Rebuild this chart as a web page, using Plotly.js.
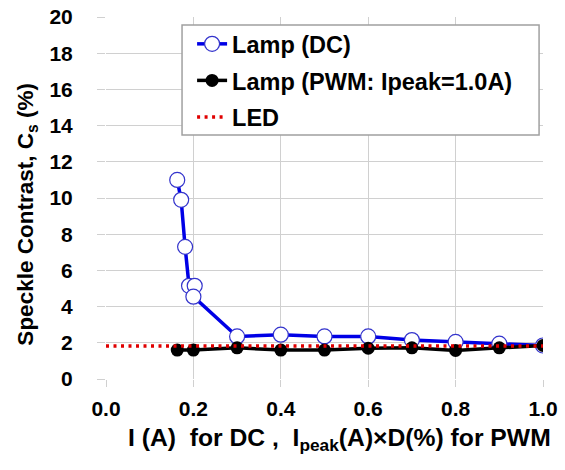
<!DOCTYPE html>
<html>
<head>
<meta charset="utf-8">
<script src="https://cdn.plot.ly/plotly-3.0.1.min.js"></script>
<style>html,body{margin:0;padding:0;background:#fff;}#chart{width:565px;height:470px;}</style>
</head>
<body>
<div id="chart"></div>
<script>
// Data
const dcCurrent = [0.163, 0.172, 0.181, 0.19, 0.203, 0.2, 0.3, 0.4, 0.5, 0.6, 0.7, 0.8, 0.9, 1.0];
const dcContrast = [11.0, 9.9, 7.3, 5.15, 5.15, 4.55, 2.35, 2.45, 2.35, 2.35, 2.15, 2.05, 1.95, 1.85];
const pwmCurrent = [0.163, 0.2, 0.3, 0.4, 0.5, 0.6, 0.7, 0.8, 0.9, 1.0];
const pwmContrast = [1.6, 1.6, 1.72, 1.6, 1.6, 1.7, 1.72, 1.58, 1.72, 1.85];
const ledX = [0.0, 1.0];
const ledContrast = [1.82, 1.82];
const seriesNames = ["Lamp (DC)", "Lamp (PWM: Ipeak=1.0A)", "LED"];
const xTicks = [0.0, 0.2, 0.4, 0.6, 0.8, 1.0];
const xTickText = ["0.0", "0.2", "0.4", "0.6", "0.8", "1.0"];
const yTicks = [0, 2, 4, 6, 8, 10, 12, 14, 16, 18, 20];
const xTitle = "I (A)  for DC ,  I<sub>peak</sub>(A)×D(%) for PWM";
const yTitle = "Speckle Contrast, C<sub>s</sub> (%)";

const font = "Liberation Sans, Arial, sans-serif";

const traces = [
  {
    x: dcCurrent, y: dcContrast, name: seriesNames[0], type: "scatter", mode: "lines+markers",
    line: {color: "#0000e6", width: 3.5},
    marker: {symbol: "circle", size: 15, color: "#ffffff", line: {color: "#3333cc", width: 1.2}},
    legendgroup: "a"
  },
  {
    x: pwmCurrent, y: pwmContrast, name: seriesNames[1], type: "scatter", mode: "lines+markers",
    line: {color: "#000000", width: 3.5},
    marker: {symbol: "circle", size: 13, color: "#000000"},
    legendgroup: "b"
  },
  {
    x: ledX, y: ledContrast, name: seriesNames[2], type: "scatter", mode: "lines",
    line: {color: "#e00000", width: 3.5, dash: "3px,4.5px"},
    legendgroup: "c"
  }
];

const layout = {
  width: 565, height: 470,
  margin: {l: 106, r: 22, t: 17, b: 91},
  paper_bgcolor: "#ffffff", plot_bgcolor: "#ffffff",
  font: {family: font, size: 21, color: "#000000", weight: "bold"},
  showlegend: true,
  legend: {
    x: 0.197, y: 0.986, xanchor: "left", yanchor: "top",
    bgcolor: "rgba(0,0,0,0)", bordercolor: "rgba(0,0,0,0)", borderwidth: 0,
    font: {family: font, size: 23.5, color: "#000", weight: "bold"},
    tracegroupgap: 3
  },
  shapes: [{
    type: "rect", xref: "paper", yref: "paper", layer: "above",
    x0: 0.174, x1: 0.991, y0: 0.674, y1: 0.978,
    fillcolor: "#ffffff", line: {color: "#a0a0a0", width: 1.5}
  }],
  annotations: [
    {
      text: xTitle, xref: "paper", yref: "paper", x: 0.535, y: -0.1685,
      xanchor: "center", yanchor: "middle", showarrow: false,
      font: {family: font, size: 24.7, color: "#000", weight: "bold"}
    },
    {
      text: yTitle, xref: "paper", yref: "paper", x: -0.18, y: 0.455,
      xanchor: "center", yanchor: "middle", showarrow: false, textangle: -90,
      font: {family: font, size: 22.5, color: "#000", weight: "bold"}
    }
  ],
  xaxis: {
    range: [0, 1.0], tickvals: xTicks, ticktext: xTickText,
    showgrid: true, gridcolor: "#d0d0d0", gridwidth: 1,
    zeroline: false, showline: false,
    ticks: "outside", ticklen: 7, tickcolor: "#d0d0d0",
    ticklabelstandoff: 4,
    tickfont: {family: font, size: 21, color: "#000", weight: "bold"},
    automargin: false
  },
  yaxis: {
    range: [0, 20], tickvals: yTicks,
    showgrid: true, gridcolor: "#d0d0d0", gridwidth: 1,
    zeroline: false, showline: false,
    ticks: "outside", ticklen: 8, tickcolor: "#d0d0d0",
    ticklabelstandoff: 20,
    tickfont: {family: font, size: 21, color: "#000", weight: "bold"},
    automargin: false
  }
};

Plotly.newPlot("chart", traces, layout, {displayModeBar: false, staticPlot: true});
</script>
</body>
</html>
